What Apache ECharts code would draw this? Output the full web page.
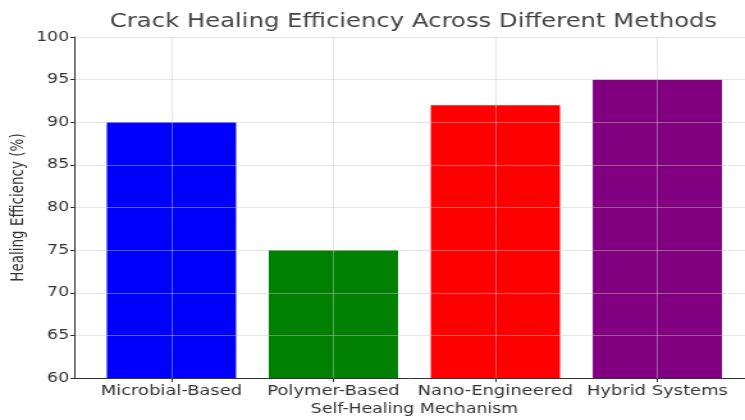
<!DOCTYPE html>
<html>
<head>
<meta charset="utf-8">
<script src="https://cdn.jsdelivr.net/npm/echarts@6/dist/echarts.min.js"></script>
<style>
  html, body { margin: 0; padding: 0; background: #fff; overflow: hidden; width: 745px; height: 420px; }
  /* the figure is drawn narrower and widened horizontally to fill the page */
  #chart { width: 582px; height: 420px; transform: scaleX(1.28); transform-origin: 0 0; }
</style>
</head>
<body>
<div id="chart"></div>
<script>
// Healing efficiency per self-healing mechanism
const categories = ['Microbial-Based', 'Polymer-Based', 'Nano-Engineered', 'Hybrid Systems'];
const efficiency = [90, 75, 92, 95];
const barColors = ['#0000ff', '#008000', '#ff0000', '#800080'];
const yTicks = [60, 65, 70, 75, 80, 85, 90, 95, 100];

const positions = categories.map((_, i) => i);
const font = 'DejaVu Sans';
const gridColor = 'rgba(200,200,200,0.45)';

const chart = echarts.init(document.getElementById('chart'));
chart.setOption({
  animation: false,
  backgroundColor: '#ffffff',
  title: {
    text: 'Crack Healing Efficiency Across Different Methods',
    left: 318,
    textAlign: 'center',
    top: 8,
    textStyle: { fontFamily: font, fontSize: 19, fontWeight: 'normal', color: '#444' }
  },
  grid: { left: 58, right: -7.5, top: 37, bottom: 42, containLabel: false, outerBoundsMode: 'none' },
  xAxis: {
    type: 'value',
    min: -0.6,
    max: 3.6,
    name: 'Self-Healing Mechanism',
    nameLocation: 'middle',
    nameGap: 24,
    nameMoveOverlap: false,
    nameTextStyle: { fontFamily: font, fontSize: 13.5, color: '#333' },
    z: 3,
    axisLine: { show: true, onZero: false, lineStyle: { color: '#333', width: 1 } },
    axisTick: { show: true, customValues: positions, length: 4, lineStyle: { color: '#333' } },
    axisLabel: {
      customValues: positions,
      formatter: v => categories[Math.round(v)],
      fontFamily: font, fontSize: 14, color: '#333', margin: 6
    },
    splitLine: { show: true, lineStyle: { color: gridColor, width: 1 } }
  },
  yAxis: {
    type: 'value',
    min: yTicks[0],
    max: yTicks[yTicks.length - 1],
    interval: 5,
    name: 'Healing Efficiency (%)',
    nameLocation: 'middle',
    nameGap: 37,
    nameMoveOverlap: false,
    nameRotate: 90,
    nameTextStyle: { fontFamily: font, fontSize: 13.5, color: '#333' },
    z: 3,
    axisLine: { show: true, onZero: false, lineStyle: { color: '#333', width: 1 } },
    axisTick: { show: true, length: 3, lineStyle: { color: '#333' } },
    axisLabel: { fontFamily: font, fontSize: 13.5, color: '#333', margin: 4 },
    splitLine: { show: true, lineStyle: { color: gridColor, width: 1 } }
  },
  series: [{
    type: 'bar',
    barWidth: 101,
    data: efficiency.map((v, i) => ({
      value: [positions[i], v],
      itemStyle: { color: barColors[i] }
    }))
  }]
});
</script>
</body>
</html>
